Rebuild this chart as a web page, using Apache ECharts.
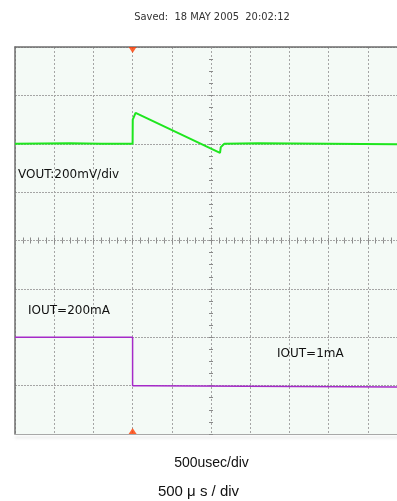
<!DOCTYPE html>
<html>
<head>
<meta charset="utf-8">
<script src="https://cdn.jsdelivr.net/npm/echarts@6/dist/echarts.min.js"></script>
<style>
html,body{margin:0;padding:0;background:#fff;}
#chart{width:397px;height:501px;}
</style>
</head>
<body>
<div id="chart"></div>
<script>
// Time axis in microseconds (500 us/div), vertical axis in screen divisions
const timeMin = -2500, timeMax = 2500, timeStep = 500;
const divMin = -4, divMax = 4, divStep = 1;

// VOUT trace (200 mV/div), offset +2 div on screen
const voutTime = [-2500, -1800, -1400, -1000, -998, -962, 115, 125, 170, 600, 1500, 2500];
const voutDiv  = [2.0, 2.01, 2.0, 2.0, 2.5, 2.64, 1.81, 1.93, 2.0, 2.01, 2.0, 1.99];

// IOUT trace, offset -2 div on screen
const ioutTime = [-2500, -1000, -1000, -820, -815, 2500];
const ioutDiv  = [-2.0, -2.0, -3.0, -3.0, -3.03, -3.03];

// trigger marker position
const triggerTime = [-1000];

const savedText = 'Saved:  18 MAY 2005  20:02:12';
const voutLabel = 'VOUT:200mV/div';
const iout1Label = 'IOUT=200mA';
const iout2Label = 'IOUT=1mA';
const xLabel1 = '500usec/div';
const xLabel2 = '500 μ s / div';

const chart = echarts.init(document.getElementById('chart'), null, {renderer: 'canvas'});

const hidden = {show: false};
function centerX(inside) {
  return {
    type: 'value', min: timeMin, max: timeMax, interval: timeStep,
    position: 'bottom',
    axisLine: {show: false, onZero: true, onZeroAxisIndex: 0},
    axisTick: {show: true, inside: inside, length: 3, lineStyle: {color: '#8a8a8a', width: 1}},
    minorTick: {show: true, splitNumber: 5, length: 3, lineStyle: {color: '#8a8a8a', width: 1}},
    axisLabel: hidden, splitLine: hidden, minorSplitLine: hidden
  };
}
function centerY(inside) {
  return {
    type: 'value', min: divMin, max: divMax, interval: divStep,
    position: 'left',
    axisLine: {show: false, onZero: true, onZeroAxisIndex: 0},
    axisTick: {show: true, inside: inside, length: 2, lineStyle: {color: '#8a8a8a', width: 1}},
    minorTick: {show: true, splitNumber: 4, length: 2, lineStyle: {color: '#8a8a8a', width: 1}},
    axisLabel: hidden, splitLine: hidden, minorSplitLine: hidden
  };
}

const option = {
  animation: false,
  backgroundColor: '#ffffff',
  grid: {
    left: 15, top: 47, width: 392, height: 387,
    containLabel: false, outerBoundsMode: 'none',
    show: true, backgroundColor: '#f4faf6', borderWidth: 0
  },
  xAxis: [
    {
      type: 'value', min: timeMin, max: timeMax, interval: timeStep,
      position: 'bottom',
      axisLine: {show: true, onZero: false, lineStyle: {color: '#a8a8a8', width: 1, shadowColor: 'rgba(200,205,203,0.8)', shadowOffsetY: 3, shadowBlur: 3}},
      axisTick: hidden, axisLabel: hidden,
      splitLine: {show: true, lineStyle: {color: '#a5a5a5', width: 1, type: [2, 2]}}
    },
    {
      type: 'value', min: timeMin, max: timeMax, interval: timeStep,
      position: 'top',
      axisLine: {show: true, onZero: false, lineStyle: {color: '#6e6e6e', width: 1.5}},
      axisTick: hidden, axisLabel: hidden, splitLine: hidden
    },
    centerX(true),
    centerX(false)
  ],
  yAxis: [
    {
      type: 'value', min: divMin, max: divMax, interval: divStep,
      position: 'left',
      axisLine: {show: true, onZero: false, lineStyle: {color: '#6e6e6e', width: 1.5}},
      axisTick: hidden, axisLabel: hidden,
      splitLine: {show: true, lineStyle: {color: '#a5a5a5', width: 1, type: [2, 1]}}
    },
    centerY(true),
    centerY(false)
  ],
  series: [
    {
      type: 'line', xAxisIndex: 0, yAxisIndex: 0,
      data: voutTime.map((t, i) => [t, voutDiv[i]]),
      symbol: 'none', lineStyle: {color: '#1ee61e', width: 2}, z: 3
    },
    {
      type: 'line', xAxisIndex: 0, yAxisIndex: 0,
      data: ioutTime.map((t, i) => [t, ioutDiv[i]]),
      symbol: 'none', lineStyle: {color: '#a52ac8', width: 1.5}, z: 3
    },
    {
      type: 'scatter', xAxisIndex: 0, yAxisIndex: 0, clip: false,
      symbol: 'triangle', symbolSize: [8, 6],
      itemStyle: {color: '#ff3c00'},
      data: [
        {value: [triggerTime[0], divMax], symbolRotate: 180, symbolOffset: [0, 3]},
        {value: [triggerTime[0], divMin], symbolRotate: 0, symbolOffset: [0, -3]}
      ],
      z: 5
    }
  ],
  graphic: [
    {type: 'text', x: 212, y: 17, style: {text: savedText, fill: '#333', font: "11px 'Liberation Sans Narrow', 'DejaVu Sans Condensed', 'Liberation Sans'", textAlign: 'center', textVerticalAlign: 'middle'}},
    {type: 'text', x: 18, y: 175, z: 10, style: {text: voutLabel, fill: '#111', font: "12px 'DejaVu Sans'", textAlign: 'left', textVerticalAlign: 'middle'}},
    {type: 'text', x: 28, y: 311, z: 10, style: {text: iout1Label, fill: '#111', font: "12px 'DejaVu Sans'", textAlign: 'left', textVerticalAlign: 'middle'}},
    {type: 'text', x: 277, y: 354, z: 10, style: {text: iout2Label, fill: '#111', font: "12px 'DejaVu Sans'", textAlign: 'left', textVerticalAlign: 'middle'}},
    {type: 'text', x: 211.5, y: 463.5, style: {text: xLabel1, fill: '#111', font: "14px 'Liberation Sans'", textAlign: 'center', textVerticalAlign: 'middle'}},
    {type: 'text', x: 198.5, y: 492, style: {text: xLabel2, fill: '#111', font: "15px 'Liberation Sans'", textAlign: 'center', textVerticalAlign: 'middle'}}
  ]
};
chart.setOption(option);
</script>
</body>
</html>
